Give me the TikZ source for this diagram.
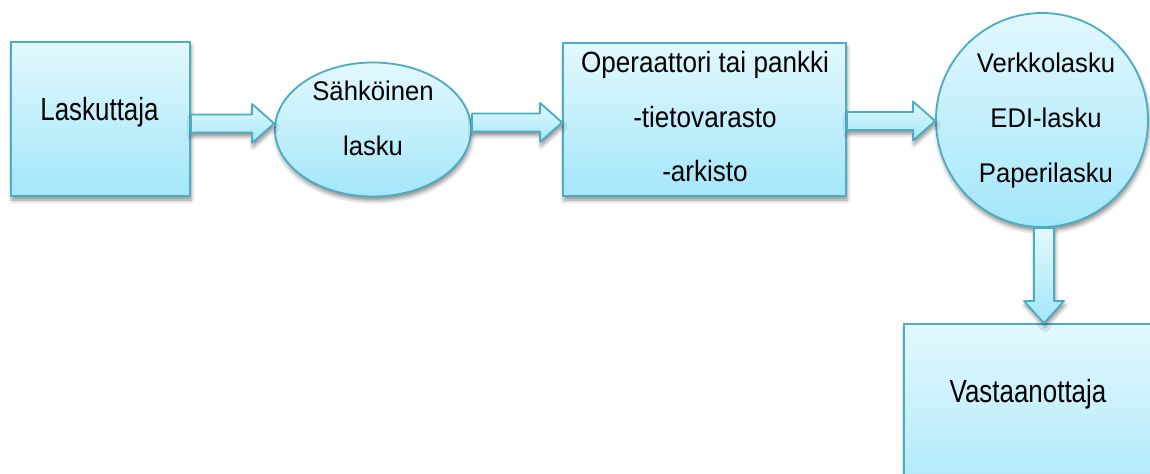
\documentclass[tikz,border=0pt]{standalone}
\usepackage{fontspec}
\setmainfont{Liberation Sans}
% condensed cuts of the sans face for the different shapes
\newfontfamily\tallsans[FakeStretch=0.81]{Liberation Sans}
\newfontfamily\midsans[FakeStretch=0.89]{Liberation Sans}
\newfontfamily\roundsans[FakeStretch=0.95]{Liberation Sans}
\usetikzlibrary{calc,shapes.geometric,shadows.blur}

\definecolor{fillTop}{RGB}{226,248,254}
\definecolor{fillBot}{RGB}{164,231,250}
\definecolor{edge}{RGB}{75,172,198}

\tikzset{
  soft/.style={blur shadow={shadow xshift=1bp, shadow yshift=-4bp,
      shadow blur radius=4bp, shadow opacity=45}},
  flowshape/.style={draw=edge, line width=1.8bp, top color=fillTop,
      bottom color=fillBot, inner sep=0pt, soft},
  boxshape/.style={flowshape, rectangle},
  ellshape/.style={flowshape, ellipse},
  txt/.style={align=center, inner sep=0pt, text=black, anchor=base},
  txtbox/.style={txt, font=\tallsans\fontsize{32bp}{55bp}\selectfont},
  txtmid/.style={txt, font=\midsans\fontsize{29.3bp}{54.5bp}\selectfont},
  txtround/.style={txt, font=\roundsans\fontsize{27bp}{55bp}\selectfont},
  harrow/.style={draw=edge, line width=1.8bp, top color=fillTop,
      bottom color=fillBot, soft, line join=round,
    to path={let \p1=(\tikztostart), \p2=(\tikztotarget) in
      (\x1,{\y1+9bp}) -- ({\x2-22bp},{\y1+9bp}) -- ({\x2-22bp},{\y1+19.5bp})
      -- (\x2,\y1) -- ({\x2-22bp},{\y1-19.5bp}) -- ({\x2-22bp},{\y1-9bp})
      -- (\x1,{\y1-9bp}) -- cycle}},
  varrow/.style={draw=edge, line width=1.8bp, top color=fillTop,
      bottom color=fillBot, soft, line join=round,
    to path={let \p1=(\tikztostart), \p2=(\tikztotarget) in
      ({\x1-10bp},\y1) -- ({\x1-10bp},{\y2+22bp}) -- ({\x1-20bp},{\y2+22bp})
      -- (\x1,\y2) -- ({\x1+20bp},{\y2+22bp}) -- ({\x1+10bp},{\y2+22bp})
      -- ({\x1+10bp},\y1) -- cycle}}
}

\begin{document}
\begin{tikzpicture}[x=1bp,y=-1bp]
  \path[use as bounding box, clip] (0,0) rectangle (1150,474);

  % shapes of the invoice flow
  \node[boxshape, minimum width=179bp, minimum height=154bp] (box1) at (100.5,119) {};
  \node[ellshape, minimum width=196bp, minimum height=134bp] (ell) at (373,129.5) {};
  \node[boxshape, minimum width=283bp, minimum height=153bp] (box3) at (704.5,119.5) {};
  \node[ellshape, minimum width=212bp, minimum height=214bp] (circ) at (1042,120) {};
  \node[boxshape, minimum width=290bp, minimum height=200bp] (box5) at (1049,424) {};

  % block arrows between the shapes
  \coordinate (a1s) at ([yshift=-4.5bp]box1.east);
  \coordinate (a2s) at ([yshift=7bp]ell.east);
  \coordinate (a3s) at ([yshift=-1.5bp]box3.east);
  \coordinate (a4s) at ([xshift=2bp]circ.south);
  \draw[harrow] (a1s) to (ell.west);
  \draw[harrow] (a2s) to (box3.west);
  \draw[harrow] (a3s) to (circ.west);
  \draw[varrow] (a4s) to (box5.north);

  % labels (base anchor sits on the last line)
  \node[txtbox] (t1) at (99.5,121) {Laskuttaja};
  \node[txtround] (t2) at (373,156) {Sähköinen\\lasku};
  \node[txtmid] (t3) at (705,182) {Operaattori tai pankki\\-tietovarasto\\-arkisto};
  \node[txtround] (t4) at (1046,183) {Verkkolasku\\EDI-lasku\\Paperilasku};
  \node[txtbox] (t5) at (1028,403) {Vastaanottaja};
\end{tikzpicture}
\end{document}
